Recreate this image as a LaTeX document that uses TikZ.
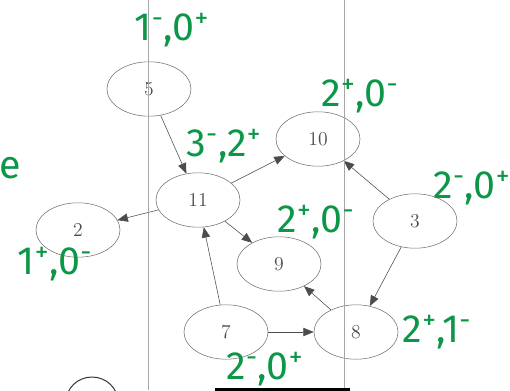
\documentclass[tikz,border=0pt]{standalone}
\usepackage{fontspec}
\newfontfamily\handfont{Fira Sans}
\usepackage{tikz}
\usetikzlibrary{arrows.meta,shapes.geometric}
\definecolor{notegreen}{RGB}{12,150,72}
\tikzset{
  vertbox/.style={ellipse, draw=black!55, minimum width=21mm, minimum height=13.6mm,
    inner sep=0pt, font=\fontsize{14}{16}\selectfont, text=black!70},
  vertarrow/.style={-{Triangle[length=2.6mm,width=2.1mm]}, draw=black!70, line width=0.4pt},
  degnote/.style={text=notegreen, font=\handfont\fontsize{28}{30}\selectfont, inner sep=0pt},
  scanline/.style={draw=black!35, line width=0.6pt},
}

\begin{document}
\begin{tikzpicture}[x=0.025cm, y=-0.025cm]
  \useasboundingbox (0,0) rectangle (510,390);
  \node[vertbox] (n5) at (149,89) {5};
  \node[vertbox] (n10) at (318,139) {10};
  \node[vertbox] (n11) at (198,200) {11};
  \node[vertbox] (n2) at (78,230) {2};
  \node[vertbox] (n3) at (415,221) {3};
  \node[vertbox] (n9) at (279,264) {9};
  \node[vertbox] (n8) at (356,332) {8};
  \node[vertbox] (n7) at (226,332) {7};
  \draw[vertarrow] (n5) -- (n11);
  \draw[vertarrow] (n11) -- (n10);
  \draw[vertarrow] (n11) -- (n2);
  \draw[vertarrow] (n11) -- (n9);
  \draw[vertarrow] (n7) -- (n11);
  \draw[vertarrow] (n7) -- (n8);
  \draw[vertarrow] (n8) -- (n9);
  \draw[vertarrow] (n3) -- (n10);
  \draw[vertarrow] (n3) -- (n8);
  \draw[scanline] (148,0) -- (148,390);
  \draw[scanline] (344,0) -- (344,390);
  \draw[black!80, line width=0.7pt] (92,402) ellipse (26 and 25);
  \draw[black, line width=2.5pt] (215,390) -- (350,390);
  \node[degnote] (d5) at (172,30) {1\textsuperscript{-},0\textsuperscript{+}};
  \node[degnote] (d10) at (360,96) {2\textsuperscript{+},0\textsuperscript{-}};
  \node[degnote] (d11) at (224,146) {3\textsuperscript{-},2\textsuperscript{+}};
  \node[degnote] (d3) at (472,188) {2\textsuperscript{-},0\textsuperscript{+}};
  \node[degnote] (d9) at (316,222) {2\textsuperscript{+},0\textsuperscript{-}};
  \node[degnote] (d2) at (55,264) {1\textsuperscript{+},0\textsuperscript{-}};
  \node[degnote] (d8) at (437,332) {2\textsuperscript{+},1\textsuperscript{-}};
  \node[degnote] (d7) at (265,369) {2\textsuperscript{-},0\textsuperscript{+}};
  \node[degnote] (de) at (10,168) {e};
\end{tikzpicture}
\end{document}
